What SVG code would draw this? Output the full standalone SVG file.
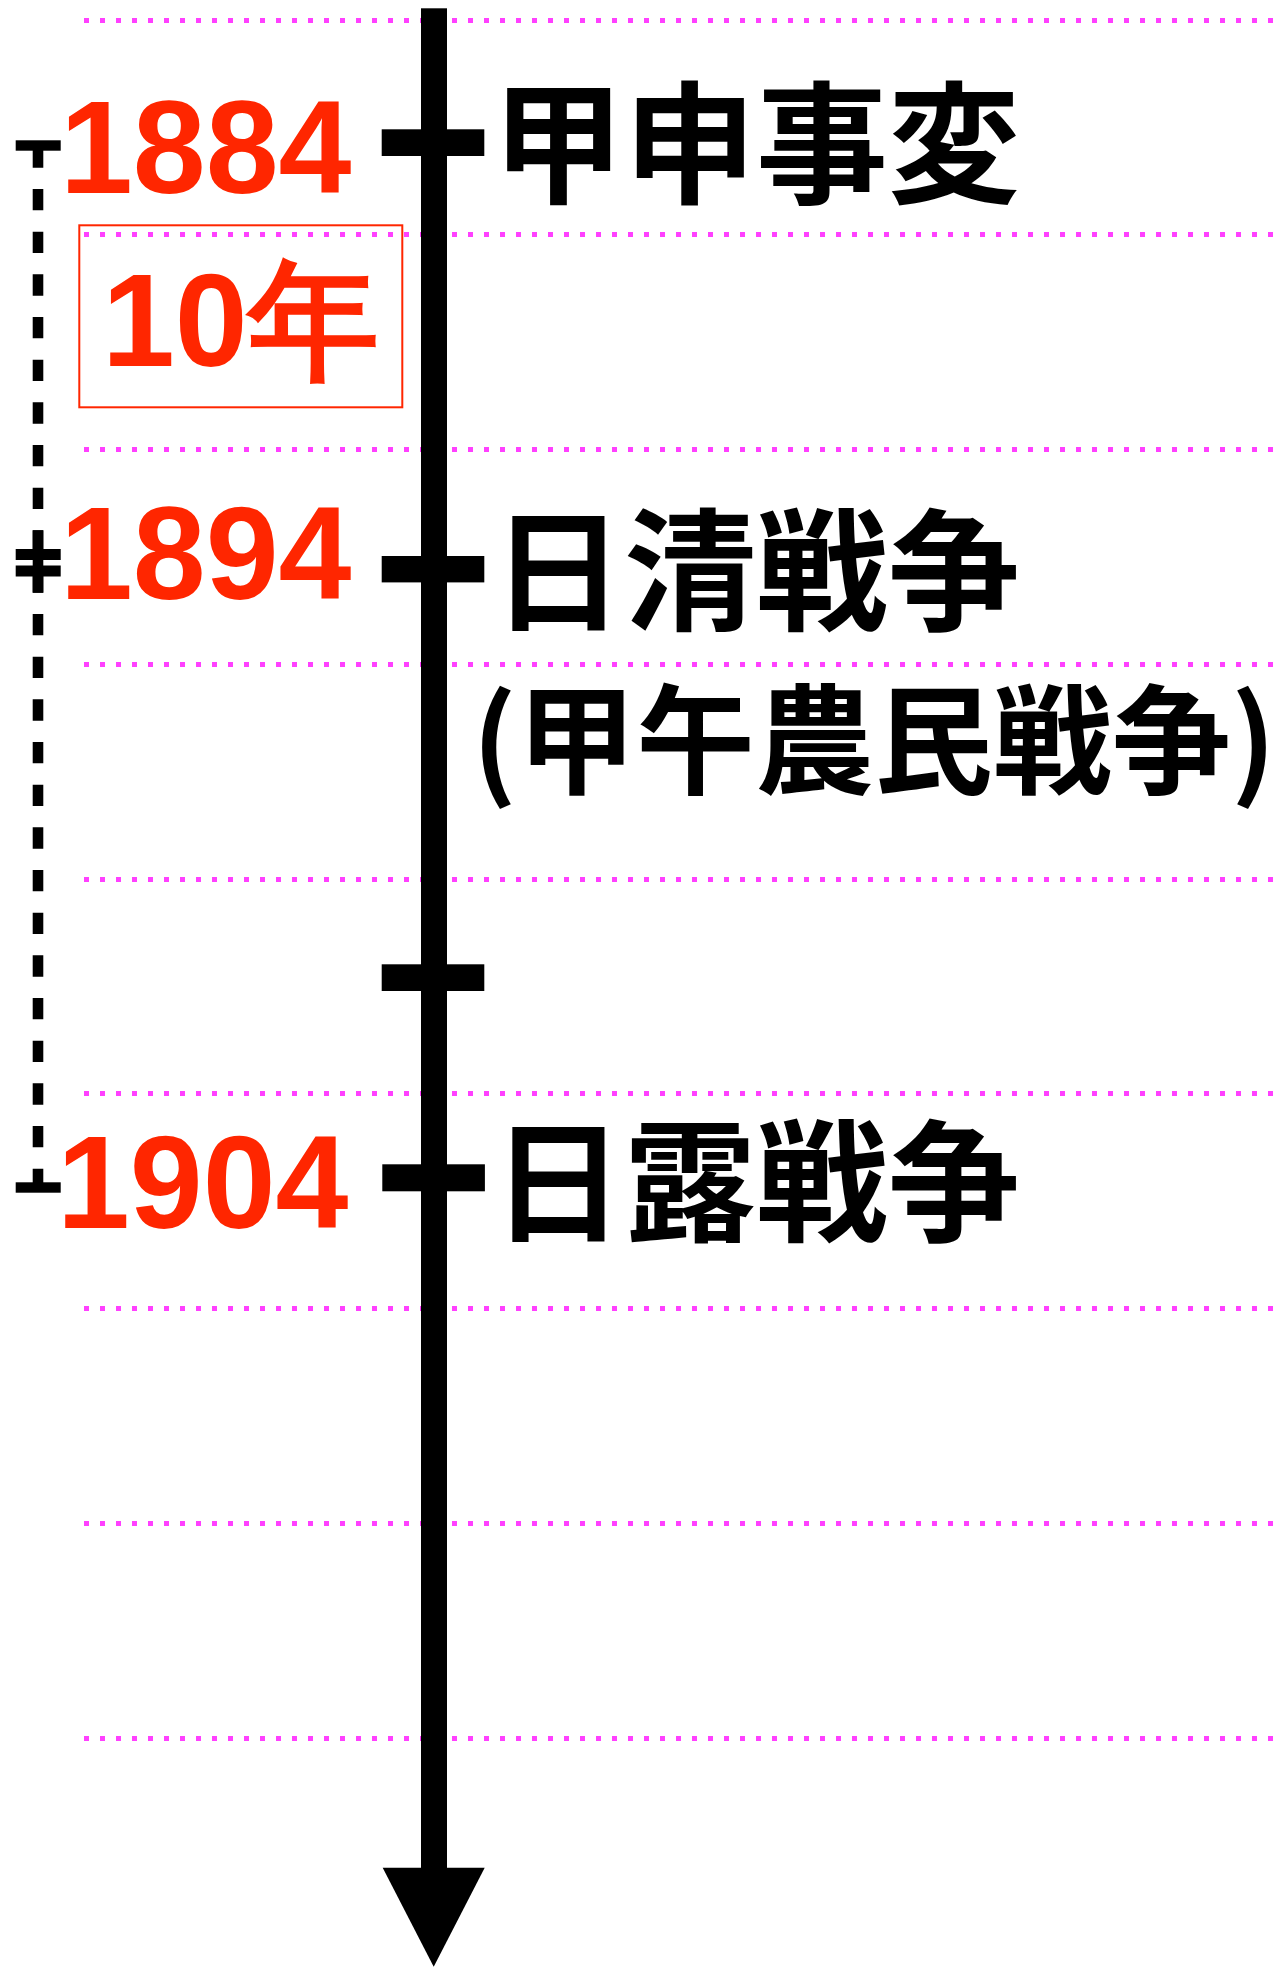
<svg xmlns="http://www.w3.org/2000/svg" width="1277" height="1968" viewBox="0 0 1277 1968">
<style>
.grid{stroke:#ff40ff;stroke-width:5;stroke-dasharray:5 11;fill:none}
.yr{font-family:"Liberation Sans",Arial,sans-serif;font-weight:bold;font-size:131px;fill:#ff2600}
.ev{font-family:"Noto Sans CJK JP","Noto Sans CJK SC",sans-serif;font-weight:bold;font-size:132px;fill:#000}
.ev2{font-family:"Noto Sans CJK JP","Noto Sans CJK SC",sans-serif;font-weight:bold;font-size:119px;fill:#000}
.tick{fill:#000}
.br{stroke:#000;stroke-width:10.6;stroke-dasharray:21.33 21.34;fill:none}
</style>
<rect width="1277" height="1968" fill="#fff"/>
<g id="grid">
<line class="grid" x1="84" y1="20.5" x2="1277" y2="20.5"/>
<line class="grid" x1="84" y1="234.5" x2="1277" y2="234.5"/>
<line class="grid" x1="84" y1="449.5" x2="1277" y2="449.5"/>
<line class="grid" x1="84" y1="664.5" x2="1277" y2="664.5"/>
<line class="grid" x1="84" y1="879.5" x2="1277" y2="879.5"/>
<line class="grid" x1="84" y1="1093.5" x2="1277" y2="1093.5"/>
<line class="grid" x1="84" y1="1308.5" x2="1277" y2="1308.5"/>
<line class="grid" x1="84" y1="1523.5" x2="1277" y2="1523.5"/>
<line class="grid" x1="84" y1="1738.5" x2="1277" y2="1738.5"/>
</g>
<g id="connectors">
<g id="axis">
<rect x="421" y="8.3" width="26" height="1860"/>
<polygon points="382.7,1867.7 484.7,1867.7 433.7,1966.7"/>
</g>
<g id="bracket">
<line class="br" x1="38" y1="146.3" x2="38" y2="555"/>
<line class="br" x1="38" y1="571.3" x2="38" y2="1187.5"/>
<rect x="32.7" y="530.3" width="10.6" height="62.4"/>
<rect x="15.7" y="140.3" width="45" height="10.4"/>
<rect x="15.7" y="549" width="45" height="11"/>
<rect x="15.7" y="565.5" width="45" height="11"/>
<rect x="15.7" y="1182.3" width="45" height="10.4"/>
</g>
</g>
<g id="span-10">
<rect x="79.3" y="225.3" width="323" height="182" fill="none" stroke="#ff2600" stroke-width="2"/>
<text class="yr" x="102" y="366">10年</text>
</g>
<g id="event-1884">
<rect class="tick" x="381.7" y="129.3" width="102.6" height="26.7"/>
<text class="yr" x="60" y="193.3">1884</text>
<text class="ev" x="492" y="192.5">甲申事変</text>
</g>
<g id="event-1894">
<rect class="tick" x="381.7" y="556" width="102.6" height="26.4"/>
<text class="yr" x="60" y="599.3">1894</text>
<text class="ev" x="492" y="620.3">日清戦争</text>
<text class="ev2" x="472" y="785">(甲午農民戦争)</text>
</g>
<g id="tick-mid">
<rect class="tick" x="381.7" y="964.3" width="102.6" height="26.7"/>
</g>
<g id="event-1904">
<rect class="tick" x="382.3" y="1164.3" width="102.6" height="27"/>
<text class="yr" x="57" y="1227.7">1904</text>
<text class="ev" x="492" y="1231.2">日露戦争</text>
</g>
</svg>
